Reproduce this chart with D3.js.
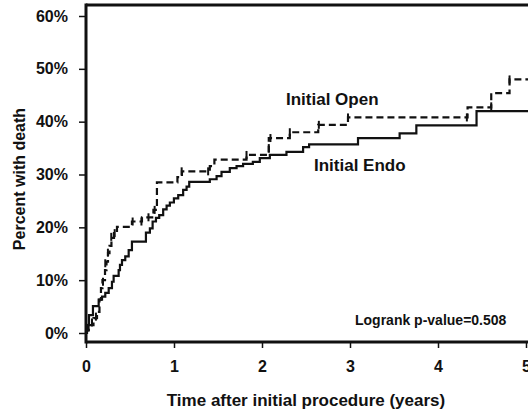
<!DOCTYPE html>
<html>
<head>
<meta charset="utf-8">
<script src="https://cdn.jsdelivr.net/npm/d3@7"></script>
<style>
  html, body { margin: 0; padding: 0; background: #fff; }
  svg { display: block; }
  text { font-family: "Liberation Sans", Arial, sans-serif; font-weight: bold; fill: #111; }
</style>
</head>
<body>
<script>
// ---- data ----
const xTicks = [0, 1, 2, 3, 4, 5];
const yTicks = [0, 10, 20, 30, 40, 50, 60];

// Initial Endo (solid) step curve: time (years), percent with death
const endoTime = [0, 0.011, 0.034, 0.079, 0.144, 0.182, 0.219, 0.258, 0.295, 0.314, 0.371, 0.386, 0.409, 0.446, 0.485, 0.522, 0.681, 0.726, 0.757, 0.795, 0.832, 0.877, 0.916, 0.953, 0.999, 1.048, 1.104, 1.143, 1.173, 1.407, 1.484, 1.540, 1.634, 1.711, 1.785, 1.896, 1.975, 2.089, 2.278, 2.467, 2.535, 3.091, 3.564, 3.754, 4.438, 5.1];
const endoPct  = [0, 1.5, 3.4, 5.1, 6.3, 6.9, 7.6, 8.5, 9.7, 10.8, 11.9, 12.9, 13.8, 14.5, 15.7, 17.3, 19.0, 19.8, 21.1, 21.8, 22.3, 23.4, 24.1, 24.7, 25.5, 26.1, 27.1, 27.7, 28.6, 29.1, 29.7, 30.5, 31.2, 31.6, 32.0, 32.4, 33.1, 33.7, 34.3, 35.2, 35.7, 36.9, 37.8, 39.3, 42.0, 42.0];

// Initial Open (dashed) step curve
const openTime = [0, 0.011, 0.045, 0.085, 0.125, 0.153, 0.170, 0.187, 0.216, 0.233, 0.250, 0.267, 0.289, 0.318, 0.352, 0.522, 0.636, 0.766, 0.806, 1.039, 1.090, 1.407, 1.459, 1.824, 2.077, 2.316, 2.639, 2.977, 4.336, 4.605, 4.813, 5.1];
const openPct  = [0, 0.6, 1.5, 2.8, 4.0, 6.3, 8.5, 10.0, 11.9, 13.5, 15.1, 16.5, 18.0, 18.9, 20.1, 21.1, 21.9, 23.3, 28.5, 29.5, 30.6, 31.6, 32.8, 33.7, 36.9, 38.0, 39.4, 40.8, 42.7, 45.4, 48.0, 48.0];

// Censor marks on the Initial Open curve
const censorTime = [0.03, 0.068, 0.113, 0.193, 0.219, 0.249, 0.287, 0.326, 0.53, 0.63, 0.71, 0.78, 1.087, 1.388, 1.824, 2.077, 2.096, 2.316, 2.646, 2.977, 4.328, 4.605, 4.813];
const censorPct  = [1.0, 2.0, 3.1, 9.7, 13.2, 15.2, 18.2, 18.9, 21.1, 21.1, 21.9, 23.3, 30.6, 30.6, 33.7, 35.0, 36.9, 38.0, 39.4, 40.8, 40.8, 42.9, 48.0];

const labels = { open: "Initial Open", endo: "Initial Endo", pvalue: "Logrank p-value=0.508",
  xTitle: "Time after initial procedure (years)", yTitle: "Percent with death" };

// ---- drawing ----
const W = 528, H = 415;
const svg = d3.select("body").append("svg").attr("width", W).attr("height", H);

const x = d3.scaleLinear().domain([0, 5]).range([86, 526]);
const y = d3.scaleLinear().domain([0, 60]).range([333, 16]);

const plotTop = 5, axisY = 342, axisX = 86;

// axes
const yAxis = d3.axisLeft(y).tickValues(yTicks).tickFormat(d => d + "%").tickSize(7).tickPadding(11);
const gy = svg.append("g").attr("transform", `translate(${axisX},0)`).call(yAxis);
gy.select(".domain").remove();
gy.selectAll(".tick line").attr("stroke", "#111").attr("stroke-width", 1.5);
gy.selectAll(".tick text").style("font-size", "16px").attr("fill", "#111")
  .style("font-family", '"Liberation Sans", Arial, sans-serif').style("font-weight", "bold");

const xAxis = d3.axisBottom(x).tickValues(xTicks).tickFormat(d3.format("d")).tickSize(6).tickPadding(12.6);
const gx = svg.append("g").attr("transform", `translate(0,${axisY})`).call(xAxis);
gx.select(".domain").remove();
gx.selectAll(".tick line").attr("stroke", "#111").attr("stroke-width", 1.5);
gx.selectAll(".tick text").style("font-size", "16px").attr("fill", "#111")
  .style("font-family", '"Liberation Sans", Arial, sans-serif').style("font-weight", "bold");

// frame lines (left, top, bottom)
svg.append("line").attr("x1", axisX).attr("x2", axisX).attr("y1", plotTop - 1.5).attr("y2", axisY + 1.5)
  .attr("stroke", "#111").attr("stroke-width", 3);
svg.append("line").attr("x1", axisX).attr("x2", W).attr("y1", plotTop).attr("y2", plotTop)
  .attr("stroke", "#111").attr("stroke-width", 3);
svg.append("line").attr("x1", axisX).attr("x2", W).attr("y1", axisY).attr("y2", axisY)
  .attr("stroke", "#111").attr("stroke-width", 3);

// curves
const line = d3.line().x(d => x(d[0])).y(d => y(d[1])).curve(d3.curveStepAfter);
const endo = endoTime.map((t, i) => [t, endoPct[i]]);
const open = openTime.map((t, i) => [t, openPct[i]]);

svg.append("path").attr("d", line(endo)).attr("fill", "none").attr("stroke", "#111").attr("stroke-width", 2.2);
svg.append("path").attr("d", line(open)).attr("fill", "none").attr("stroke", "#111").attr("stroke-width", 2.2)
  .attr("stroke-dasharray", "7,4");

// censor marks
svg.append("g").selectAll("line").data(censorTime.map((t, i) => [t, censorPct[i]])).join("line")
  .attr("x1", d => x(d[0])).attr("x2", d => x(d[0]))
  .attr("y1", d => y(d[1]) - 4).attr("y2", d => y(d[1]) + 4)
  .attr("stroke", "#111").attr("stroke-width", 2);

// annotations
svg.append("text").attr("x", 286).attr("y", 104.5).style("font-size", "17px").text(labels.open);
svg.append("text").attr("x", 314).attr("y", 171).style("font-size", "17px").text(labels.endo);
svg.append("text").attr("x", 355).attr("y", 325).style("font-size", "14px").text(labels.pvalue);

// axis titles
svg.append("text").attr("x", 306).attr("y", 406).attr("text-anchor", "middle").style("font-size", "17px").text(labels.xTitle);
svg.append("text").attr("transform", "translate(24.5,179) rotate(-90)").attr("text-anchor", "middle")
  .style("font-size", "16px").text(labels.yTitle);
</script>
</body>
</html>
